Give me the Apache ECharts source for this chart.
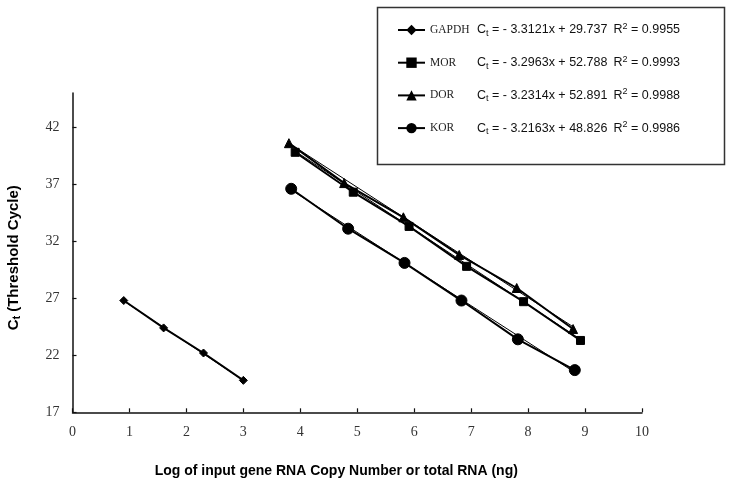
<!DOCTYPE html>
<html><head><meta charset="utf-8">
<script src="https://cdn.jsdelivr.net/npm/echarts@6/dist/echarts.min.js"></script>
<style>html,body{margin:0;padding:0;background:#fff}#c{width:729px;height:485px}</style>
</head><body><div id="c"></div>
<script>
// ---- data ----
const seriesNames = ['GAPDH', 'MOR', 'DOR', 'KOR'];
const gapdhX = [0.9, 1.6, 2.3, 3.0];
const gapdhY = [26.8, 24.4, 22.2, 19.8];
const morX = [3.91, 4.93, 5.91, 6.92, 7.92, 8.92];
const morY = [39.8, 36.3, 33.3, 29.8, 26.7, 23.3];
const dorX = [3.80, 4.77, 5.81, 6.79, 7.80, 8.79];
const dorY = [40.6, 37.1, 34.1, 30.8, 27.9, 24.3];
const korX = [3.84, 4.84, 5.83, 6.83, 7.82, 8.82];
const korY = [36.6, 33.1, 30.1, 26.8, 23.4, 20.7];
// trendline end points
const gapdhTrendX = [0.9, 3.0];  const gapdhTrendY = [26.76, 19.80];
const morTrendX = [3.91, 8.92];  const morTrendY = [39.9, 23.4];
const dorTrendX = [3.80, 8.79];  const dorTrendY = [40.6, 24.5];
const korTrendX = [3.84, 8.82];  const korTrendY = [36.5, 20.5];
// legend equation text
const slopes = ['3.3121', '3.2963', '3.2314', '3.2163'];
const intercepts = ['29.737', '52.788', '52.891', '48.826'];
const r2Values = ['0.9955', '0.9993', '0.9988', '0.9986'];
const yTickValues = [17, 22, 27, 32, 37, 42];
const xTickValues = [0, 1, 2, 3, 4, 5, 6, 7, 8, 9, 10];

const pair = (xs, ys) => xs.map((x, i) => [x, ys[i]]);
const symbols = ['diamond', 'rect', 'triangle', 'circle'];
const symSizes = [8, 8, 9, 11];
const dataSets = [[gapdhX, gapdhY], [morX, morY], [dorX, dorY], [korX, korY]];
const trendSets = [[gapdhTrendX, gapdhTrendY], [morTrendX, morTrendY], [dorTrendX, dorTrendY], [korTrendX, korTrendY]];

const series = [];
trendSets.forEach((t, i) => {
  series.push({
    name: seriesNames[i] + ' trend', type: 'line', data: pair(t[0], t[1]),
    showSymbol: false, symbol: 'none', silent: true, z: 1,
    lineStyle: { color: '#000', width: 1 }
  });
});
dataSets.forEach((d, i) => {
  series.push({
    name: seriesNames[i], type: 'line', data: pair(d[0], d[1]),
    symbol: symbols[i], symbolSize: symSizes[i], z: 2,
    lineStyle: { color: '#000', width: 2 },
    itemStyle: { color: '#000', borderColor: '#000' }
  });
});

const chart = echarts.init(document.getElementById('c'), null, { renderer: 'canvas' });
chart.setOption({
  animation: false,
  backgroundColor: '#fff',
  grid: { left: 72.5, right: 87, top: 93, bottom: 72.7, containLabel: false, outerBoundsMode: 'none' },
  xAxis: {
    type: 'value', min: 0, max: 10, interval: 1,
    axisLine: { show: true, lineStyle: { color: '#111', width: 1.5 } },
    axisTick: { show: true, inside: true, length: 4, lineStyle: { color: '#111', width: 1.2 } },
    axisLabel: { margin: 13, color: '#333', fontFamily: 'Liberation Serif', fontSize: 14 },
    splitLine: { show: false },
    name: 'Log of input gene RNA Copy Number or total RNA (ng)',
    nameLocation: 'middle', nameGap: 52,
    nameTextStyle: { fontFamily: 'Liberation Sans', fontWeight: 'bold', fontSize: 14, color: '#000', padding: [0, 42, 0, 0] }
  },
  yAxis: {
    type: 'value', min: 17, max: 45,
    axisLine: { show: true, lineStyle: { color: '#111', width: 1.5 } },
    axisTick: { show: true, inside: true, length: 4, customValues: yTickValues, lineStyle: { color: '#111', width: 1.2 } },
    axisLabel: { margin: 13, color: '#333', fontFamily: 'Liberation Serif', fontSize: 14, customValues: yTickValues },
    splitLine: { show: false },
    name: '{m|C}{s|t}{m| (Threshold Cycle)}',
    nameLocation: 'middle', nameGap: 50, nameRotate: 90,
    nameTextStyle: {
      padding: [0, 10, 0, 0],
      rich: {
        m: { fontFamily: 'Liberation Sans', fontWeight: 'bold', fontSize: 15, color: '#000', lineHeight: 18, verticalAlign: 'middle' },
        s: { fontFamily: 'Liberation Sans', fontWeight: 'bold', fontSize: 10, color: '#000', lineHeight: 10, verticalAlign: 'bottom' }
      }
    }
  },
  legend: {
    data: seriesNames,
    orient: 'vertical', left: 392, top: 17,
    itemWidth: 27, itemHeight: 13, itemGap: 16.7,
    selectedMode: false,
    formatter: function (name) {
      const i = seriesNames.indexOf(name);
      return '{n|' + name + '}{e|C}{s|t}{q| = - ' + slopes[i] + 'x + ' + intercepts[i] + '}{e|R}{p|2}{e| = ' + r2Values[i] + '}';
    },
    textStyle: {
      rich: {
        n: { fontFamily: 'Liberation Serif', fontSize: 11.5, color: '#222', width: 47, lineHeight: 16 },
        e: { fontFamily: 'Liberation Sans', fontSize: 12.5, color: '#111', lineHeight: 16 },
        q: { fontFamily: 'Liberation Sans', fontSize: 12.5, color: '#111', lineHeight: 16, width: 125 },
        s: { fontFamily: 'Liberation Sans', fontSize: 9, color: '#111', lineHeight: 9, verticalAlign: 'bottom' },
        p: { fontFamily: 'Liberation Sans', fontSize: 9, color: '#111', lineHeight: 9, verticalAlign: 'top' }
      }
    }
  },
  graphic: [{
    type: 'rect', left: 375, top: 5, z: 0, silent: true,
    shape: { width: 347, height: 157 },
    style: { fill: 'none', stroke: '#333', lineWidth: 1.5 }
  }],
  series: series
});
</script></body></html>
